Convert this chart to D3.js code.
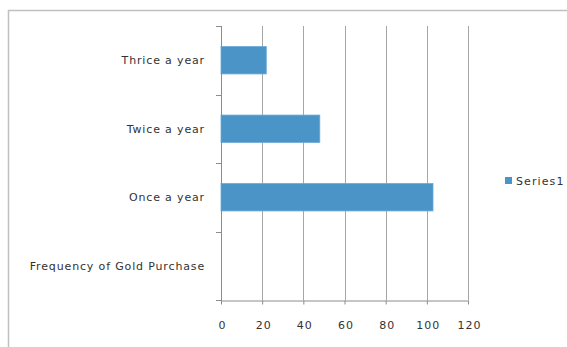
<!DOCTYPE html>
<html><head><meta charset="utf-8">
<script src="https://cdn.jsdelivr.net/npm/d3@7/dist/d3.min.js"></script>
<style>body{margin:0;background:#fff}svg{display:block}text{font-family:"DejaVu Sans",sans-serif;fill:#333}</style>
</head><body><svg id="c" width="567" height="347"></svg>
<script>
const categories = ["Frequency of Gold Purchase", "Once a year", "Twice a year", "Thrice a year"];
const values = [0, 103, 48, 22];
const seriesName = "Series1";
const xTicks = [0, 20, 40, 60, 80, 100, 120];

const svg = d3.select("#c");
const m = {left: 221, right: 468, top: 26, bottom: 300};
// outer border
svg.append("path").attr("d", "M8.5,347 L8.5,10.5 L567,10.5").attr("fill", "none").attr("stroke", "#c0c0c0").attr("stroke-width", 1.5);

const x = d3.scaleLinear().domain([0, 120]).range([m.left, m.right]);
const y = d3.scaleBand().domain(categories.slice().reverse()).range([m.top, m.bottom]).paddingInner(0.6).paddingOuter(0.3);
const yb = d3.scaleBand().domain(categories.slice().reverse()).range([m.top, m.bottom]);

// gridlines
svg.append("g").selectAll("line").data(xTicks.slice(1)).join("line")
  .attr("x1", d => Math.round(x(d)) + 0.5).attr("x2", d => Math.round(x(d)) + 0.5)
  .attr("y1", m.top).attr("y2", m.bottom).attr("stroke", "#a6a6a6").attr("stroke-width", 1);

// bars
svg.append("g").selectAll("rect").data(categories).join("rect")
  .attr("x", x(0)).attr("y", d => y(d)).attr("height", y.bandwidth())
  .attr("width", (d, i) => x(values[i]) - x(0))
  .attr("fill", "#4a94c8").attr("stroke", "#6aaad8").attr("stroke-width", 0.8);

// x axis
const xa = svg.append("g").attr("transform", `translate(0,${m.bottom + 0.5})`)
  .call(d3.axisBottom(x).tickValues(xTicks).tickSize(4).tickPadding(17).tickSizeOuter(0));
xa.select(".domain").attr("stroke", "#8c8c8c");
xa.selectAll(".tick line").attr("stroke", "#8c8c8c");
xa.selectAll("text").attr("font-size", 11).attr("fill", "#333").attr("dx", 1).style("letter-spacing", "1px").style("font-family", "DejaVu Sans");

// y axis line and ticks at band boundaries
svg.append("line").attr("x1", m.left + 0.5).attr("x2", m.left + 0.5).attr("y1", m.top).attr("y2", m.bottom + 4).attr("stroke", "#8c8c8c");
const bounds = categories.map(c => yb(c)).concat([m.bottom]);
svg.append("g").selectAll("line").data(bounds).join("line")
  .attr("x1", m.left - 5).attr("x2", m.left).attr("y1", d => Math.round(d) + 0.5).attr("y2", d => Math.round(d) + 0.5)
  .attr("stroke", "#8c8c8c");
svg.append("g").selectAll("text").data(categories).join("text")
  .attr("x", m.left - 16).attr("y", d => yb(d) + yb.bandwidth() / 2 + 4)
  .attr("text-anchor", "end").attr("font-size", 11).style("letter-spacing", "0.85px").text(d => d);

// legend
svg.append("rect").attr("x", 505).attr("y", 177).attr("width", 7).attr("height", 7).attr("fill", "#4a94c8");
svg.append("text").attr("x", 516).attr("y", 185).attr("font-size", 11).style("letter-spacing", "1.1px").text(seriesName);
</script></body></html>
